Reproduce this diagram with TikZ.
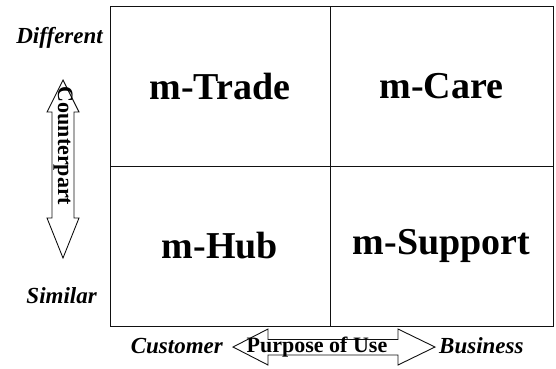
\documentclass[tikz,border=0pt]{standalone}
\usepackage{fontspec}
\setmainfont{Liberation Serif}
\usepackage{tikz}
\definecolor{ink}{HTML}{111111}
\tikzset{
  cell/.style     ={draw=ink,line width=1pt,minimum height=160pt,inner sep=0pt,
                    font=\fontsize{38}{40}\selectfont\bfseries},
  axis/.style     ={inner sep=0pt,font=\fontsize{23}{25}\selectfont\bfseries\itshape},
  arrowshape/.style={draw=ink,line width=0.9pt,fill=white,line join=miter},
  arrowtext/.style={inner sep=0pt,font=\fontsize{22}{24}\selectfont\bfseries}
}
\begin{document}
\begin{tikzpicture}[x=1pt,y=-1pt]
  \useasboundingbox (0,0) rectangle (556,368);
  % quadrants
  \node[cell,minimum width=220pt] (trade)   at (220,86)    {m-Trade};
  \node[cell,minimum width=223pt] (care)    at (441.5,86)  {m-Care};
  \node[cell,minimum width=220pt] (hub)     at (220,246)   {m-Hub};
  \node[cell,minimum width=223pt] (support) at (441.5,246) {m-Support};
  % axis ends
  \node[axis,anchor=base east] (diff) at (103,43)  {Different};
  \node[axis,anchor=base east] (sim)  at (97,303)  {Similar};
  \node[axis,anchor=base east] (cust) at (223,353) {Customer};
  \node[axis,anchor=base west] (bus)  at (439,353) {Business};
  % axis arrows
  \draw[arrowshape] (63,80) -- (79,112) -- (74,112) -- (74,218) -- (79,218)
    -- (63,258) -- (47,218) -- (52,218) -- (52,112) -- (47,112) -- cycle;
  \node[arrowtext,rotate=-90] (countertext) at (63,146) {Counterpart};
  \draw[arrowshape] (233,347) -- (268,329) -- (268,339.5) -- (398,339.5) -- (398,329)
    -- (435,347) -- (398,365) -- (398,355) -- (268,355) -- (268,365) -- cycle;
  \node[arrowtext] (purposetext) at (317,347.5) {Purpose of Use};
\end{tikzpicture}
\end{document}
